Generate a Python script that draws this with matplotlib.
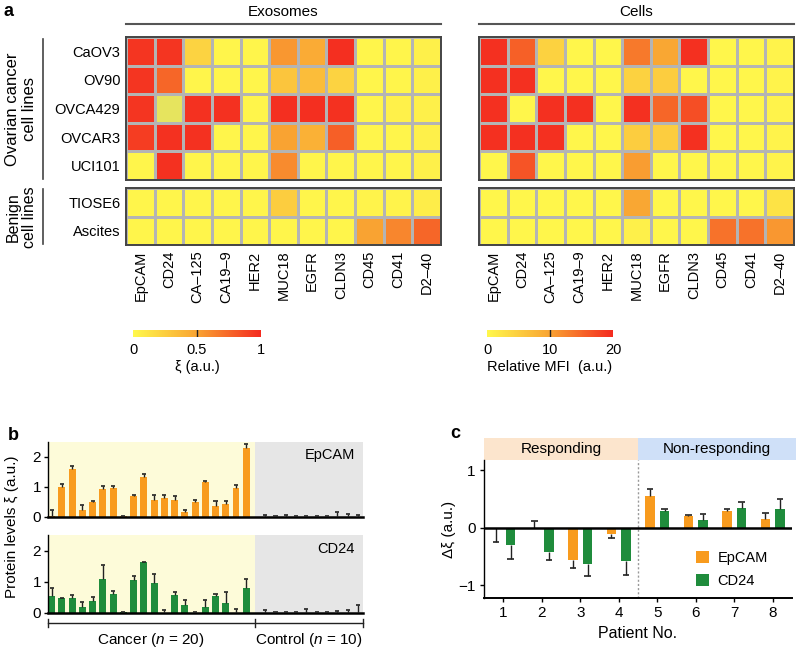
import numpy as np
import matplotlib
matplotlib.use("Agg")
import matplotlib.pyplot as plt
from matplotlib.colors import LinearSegmentedColormap, Normalize
from matplotlib.patches import Rectangle
import matplotlib.cm as cm

plt.rcParams['font.family'] = ['Liberation Sans', 'DejaVu Sans']
plt.rcParams['mathtext.fontset'] = 'custom'
plt.rcParams['mathtext.rm'] = 'Liberation Sans'
plt.rcParams['mathtext.it'] = 'Liberation Sans:italic'

# ---------------- data ----------------
markers = ['EpCAM', 'CD24', 'CA\u2013125', 'CA19\u20139', 'HER2', 'MUC18', 'EGFR', 'CLDN3', 'CD45', 'CD41', 'D2\u201340']
cancer_lines = ['CaOV3', 'OV90', 'OVCA429', 'OVCAR3', 'UCI101']
benign_lines = ['TIOSE6', 'Ascites']

exo_cancer = [
    [0.95, 0.95, 0.22, 0.02, 0.02, 0.55, 0.45, 0.98, 0.02, 0.02, 0.05],
    [0.95, 0.75, 0.02, 0.02, 0.02, 0.30, 0.35, 0.22, 0.02, 0.02, 0.05],
    [0.95, -0.05, 0.97, 0.97, 0.02, 0.98, 0.98, 0.97, 0.02, 0.04, 0.05],
    [0.92, 0.97, 0.97, 0.02, 0.02, 0.50, 0.42, 0.78, 0.02, 0.02, 0.05],
    [0.02, 0.97, 0.02, 0.02, 0.02, 0.60, 0.02, 0.02, 0.02, 0.02, 0.05],
]
exo_benign = [
    [0.02, 0.02, 0.02, 0.02, 0.02, 0.25, 0.02, 0.02, 0.03, 0.03, 0.07],
    [0.02, 0.02, 0.02, 0.02, 0.02, 0.02, 0.02, 0.02, 0.50, 0.62, 0.75],
]
cell_cancer = [
    [19.5, 15.5, 4.5, 0.3, 0.3, 13.5, 9.5, 19.5, 0.3, 0.3, 0.6],
    [19.5, 19.5, 0.3, 0.3, 0.3, 4.5, 5.0, 0.3, 0.3, 0.3, 0.6],
    [19.5, 0.3, 19.5, 19.5, 0.3, 19.5, 15.0, 17.0, 0.3, 0.3, 0.6],
    [19.5, 19.5, 19.5, 0.3, 0.3, 5.0, 5.0, 19.5, 0.3, 0.3, 0.6],
    [0.3, 16.5, 0.3, 0.3, 0.3, 10.5, 0.3, 0.3, 0.3, 0.3, 0.6],
]
cell_benign = [
    [0.3, 0.3, 0.3, 0.3, 0.3, 9.5, 0.3, 0.3, 0.3, 0.3, 2.5],
    [0.3, 0.3, 0.3, 0.3, 0.3, 1.0, 0.3, 0.3, 14.0, 14.0, 11.0],
]

# panel b
epcam_cancer = [0.02, 1.0, 1.6, 0.25, 0.5, 0.92, 0.97, 0.02, 0.7, 1.33, 0.57, 0.62, 0.57, 0.18, 0.5, 1.17, 0.37, 0.45, 0.98, 2.3]
epcam_cancer_err = [0.23, 0.1, 0.1, 0.15, 0.02, 0.1, 0.08, 0.03, 0.02, 0.09, 0.18, 0.1, 0.13, 0.05, 0.08, 0.02, 0.15, 0.1, 0.1, 0.13]
epcam_control = [0.01, 0.01, 0.01, 0.01, 0.01, 0.01, 0.01, 0.01, 0.01, 0.01]
epcam_control_err = [0.07, 0.01, 0.07, 0.04, 0.03, 0.03, 0.04, 0.15, 0.1, 0.05]
cd24_cancer = [0.55, 0.47, 0.47, 0.2, 0.4, 1.1, 0.62, 0.02, 1.07, 1.63, 0.95, 0.01, 0.57, 0.27, 0.01, 0.18, 0.55, 0.32, 0.01, 0.8]
cd24_cancer_err = [0.25, 0.02, 0.1, 0.15, 0.1, 0.45, 0.1, 0.01, 0.13, 0.02, 0.3, 0.09, 0.11, 0.15, 0.02, 0.25, 0.07, 0.35, 0.11, 0.28]
cd24_control = [0.01, 0.01, 0.01, 0.01, 0.01, 0.01, 0.01, 0.01, 0.01, 0.01]
cd24_control_err = [0.1, 0.02, 0.03, 0.02, 0.12, 0.01, 0.02, 0.04, 0.1, 0.25]

# panel c
patients = [1, 2, 3, 4, 5, 6, 7, 8]
epcam_delta = [-0.01, 0.005, -0.56, -0.1, 0.55, 0.2, 0.3, 0.15]
epcam_delta_err = [0.24, 0.12, 0.14, 0.08, 0.13, 0.02, 0.02, 0.11]
cd24_delta = [-0.3, -0.42, -0.62, -0.57, 0.3, 0.13, 0.35, 0.33]
cd24_delta_err = [0.25, 0.14, 0.21, 0.25, 0.03, 0.11, 0.1, 0.17]

ORANGE = '#f89b1e'
GREEN = '#1f8c3c'

W, H = 800, 654
fig = plt.figure(figsize=(8, 6.54), dpi=100)


def px(x0, y0, x1, y1):
    return [x0 / W, 1 - y1 / H, (x1 - x0) / W, (y1 - y0) / H]


def fx(x):
    return x / W


def fy(y):
    return 1 - y / H


def one_sided_err(ax, xs, vs, es, capw):
    """Error bar pointing away from zero, with a single cap."""
    xs = np.asarray(xs, dtype=float)
    vs = np.asarray(vs, dtype=float)
    es = np.asarray(es, dtype=float)
    tips = vs + np.where(vs < 0, -es, es)
    ax.vlines(xs, vs, tips, colors='#222222', lw=1.0, zorder=3)
    ax.hlines(tips, xs - capw, xs + capw, colors='#222222', lw=1.2, zorder=3)


cmap = LinearSegmentedColormap.from_list('yr', ['#fff84c', '#f9a332', '#f42a1f'])
cmap.set_under('#e6e45e')

# ---------------- panel a ----------------
fig.text(fx(4), fy(12), 'a', fontsize=13, fontweight='bold', va='center', ha='left')


def heat(ax, data, vmax, ylabels, xlabels):
    arr = np.array(data, dtype=float)
    ax.pcolormesh(arr, cmap=cmap, norm=Normalize(0, vmax), edgecolors='#b4b4b4', linewidth=1.0)
    ax.set_xlim(0, arr.shape[1])
    ax.set_ylim(arr.shape[0], 0)
    for s in ax.spines.values():
        s.set_color('#444444')
        s.set_linewidth(1.4)
    ax.tick_params(length=0, labelsize=10.5, pad=4)
    if ylabels:
        ax.set_yticks(np.arange(len(ylabels)) + 0.5)
        ax.set_yticklabels(ylabels)
    else:
        ax.set_yticks([])
    if xlabels:
        ax.set_xticks(np.arange(len(xlabels)) + 0.5)
        ax.set_xticklabels(xlabels, rotation=90)
    else:
        ax.set_xticks([])


for (xa, xb, cdata, bdata, vmax, show_y, title) in [
        (126, 441, exo_cancer, exo_benign, 1.0, True, 'Exosomes'),
        (479, 794, cell_cancer, cell_benign, 20.0, False, 'Cells')]:
    a1 = fig.add_axes(px(xa, 37, xb, 180))
    heat(a1, cdata, vmax, cancer_lines if show_y else None, None)
    a2 = fig.add_axes(px(xa, 188, xb, 245))
    heat(a2, bdata, vmax, benign_lines if show_y else None, markers)
    fig.text(fx((xa + xb) / 2), fy(12), title, fontsize=11, ha='center', va='center')
    fig.add_artist(plt.Line2D([fx(xa), fx(xb)], [fy(24), fy(24)], color='#555555', lw=1.5))

# group labels
fig.add_artist(plt.Line2D([fx(43), fx(43)], [fy(39), fy(179)], color='#444444', lw=1.2))
fig.add_artist(plt.Line2D([fx(43), fx(43)], [fy(189), fy(244)], color='#444444', lw=1.2))
fig.text(fx(21), fy(109), 'Ovarian cancer\ncell lines', rotation=90, ha='center', va='center',
         fontsize=12, linespacing=1.1)
fig.text(fx(21), fy(217), 'Benign\ncell lines', rotation=90, ha='center', va='center',
         fontsize=11.5, linespacing=1.1)

# colorbars
for (xa, xb, vmax, ticks, labels, title) in [
        (133, 261, 1.0, [0, 0.5, 1], ['0', '0.5', '1'], '\u03be (a.u.)'),
        (487, 613, 20.0, [0, 10, 20], ['0', '10', '20'], 'Relative MFI  (a.u.)')]:
    cax = fig.add_axes(px(xa, 330, xb, 337))
    sm = cm.ScalarMappable(norm=Normalize(0, vmax), cmap=cmap)
    cb = fig.colorbar(sm, cax=cax, orientation='horizontal', ticks=ticks)
    cb.outline.set_visible(False)
    cax.set_xticklabels(labels)
    cax.tick_params(length=0, labelsize=10.5, pad=4)
    cax.axvline(ticks[1], color='#222222', lw=1.0)
    fig.text(fx((xa + xb) / 2), fy(367), title, ha='center', va='center', fontsize=10.5)

# ---------------- panel b ----------------
fig.text(fx(8), fy(435), 'b', fontsize=13, fontweight='bold', va='center', ha='left')
x_cancer = np.arange(20)
x_control = 20.85 + np.arange(10) * 1.007
XL = (-0.36, 30.4)
BOUND = 19.87


def bar_panel(ax, cvals, cerr, kvals, kerr, color, name):
    ax.add_patch(Rectangle((XL[0], 0), BOUND - XL[0], 2.5, facecolor='#fdfbd9', edgecolor='none', zorder=0))
    ax.add_patch(Rectangle((BOUND, 0), XL[1] - BOUND, 2.5, facecolor='#e6e6e6', edgecolor='none', zorder=0))
    xs = np.concatenate([x_cancer, x_control])
    vs = np.concatenate([cvals, kvals])
    es = np.concatenate([cerr, kerr])
    ax.bar(xs, vs, width=0.68, color=color, zorder=2)
    one_sided_err(ax, xs, vs, es, 0.2)
    ax.set_xlim(*XL)
    ax.set_ylim(0, 2.5)
    ax.set_yticks([0, 1, 2])
    ax.set_xticks([])
    ax.spines['top'].set_visible(False)
    ax.spines['right'].set_visible(False)
    ax.spines['bottom'].set_linewidth(1.8)
    ax.spines['left'].set_linewidth(1.0)
    ax.tick_params(axis='y', labelsize=11, length=3, width=1.0, pad=2)
    ax.text(0.975, 0.82, name, transform=ax.transAxes, ha='right', va='center', fontsize=10.5)
    ax.set_facecolor('none')


bt = fig.add_axes(px(48, 442, 363, 517))
bar_panel(bt, epcam_cancer, epcam_cancer_err, epcam_control, epcam_control_err, ORANGE, 'EpCAM')
bb = fig.add_axes(px(48, 535, 363, 613))
bar_panel(bb, cd24_cancer, cd24_cancer_err, cd24_control, cd24_control_err, GREEN, 'CD24')
fig.text(fx(12), fy(527), 'Protein levels \u03be (a.u.)', rotation=90, ha='center', va='center', fontsize=11)

# bracket
fig.add_artist(plt.Line2D([fx(48), fx(363)], [fy(623), fy(623)], color='#222222', lw=1.0))
for xb_ in (48, 255, 363):
    fig.add_artist(plt.Line2D([fx(xb_), fx(xb_)], [fy(619), fy(627)], color='#222222', lw=1.0))
fig.text(fx(151), fy(640), 'Cancer ($\\mathit{n}$ = 20)', ha='center', va='center', fontsize=11)
fig.text(fx(309), fy(640), 'Control ($\\mathit{n}$ = 10)', ha='center', va='center', fontsize=11)

# ---------------- panel c ----------------
fig.text(fx(450), fy(433), 'c', fontsize=13, fontweight='bold', va='center', ha='left')
axc = fig.add_axes(px(484, 460, 792, 598))
p = np.array(patients, dtype=float)

off, bw = 0.19, 0.25
axc.bar(p - off, epcam_delta, width=bw, color=ORANGE, zorder=2, label='EpCAM')
axc.bar(p + off, cd24_delta, width=bw, color=GREEN, zorder=2, label='CD24')
one_sided_err(axc, p - off, epcam_delta, epcam_delta_err, 0.08)
one_sided_err(axc, p + off, cd24_delta, cd24_delta_err, 0.08)
axc.axhline(0, color='black', lw=1.8, zorder=4)
axc.axvline(4.5, color='#999999', lw=1.0, ls=(0, (1.5, 1.5)), zorder=1)
axc.set_xlim(0.5, 8.5)
axc.set_ylim(-1.22, 1.18)
axc.set_xticks(patients)
axc.set_yticks([-1, 0, 1])
axc.spines['top'].set_visible(False)
axc.spines['right'].set_visible(False)
axc.spines['bottom'].set_linewidth(1.4)
axc.spines['left'].set_linewidth(1.0)
axc.tick_params(labelsize=11, length=3, width=1.0, pad=3)
axc.set_xlabel('Patient No.', fontsize=11.5, labelpad=4)
axc.set_ylabel('\u0394\u03be (a.u.)', fontsize=11, labelpad=2)
leg = axc.legend(loc='lower right', bbox_to_anchor=(0.965, -0.02), frameon=False, fontsize=10.5,
                 handlelength=0.9, handleheight=0.9, handletextpad=0.6, labelspacing=0.6)

# header band
axc.add_patch(Rectangle((0.5, 1.18), 4.0, 0.39, facecolor='#fce5cd', edgecolor='none',
                        clip_on=False, transform=axc.transData))
axc.add_patch(Rectangle((4.5, 1.18), 4.1, 0.39, facecolor='#cfe0f8', edgecolor='none',
                        clip_on=False, transform=axc.transData))
axc.text(2.5, 1.375, 'Responding', ha='center', va='center', fontsize=11)
axc.text(6.55, 1.375, 'Non-responding', ha='center', va='center', fontsize=11)

fig.savefig('out.png', dpi=100)
